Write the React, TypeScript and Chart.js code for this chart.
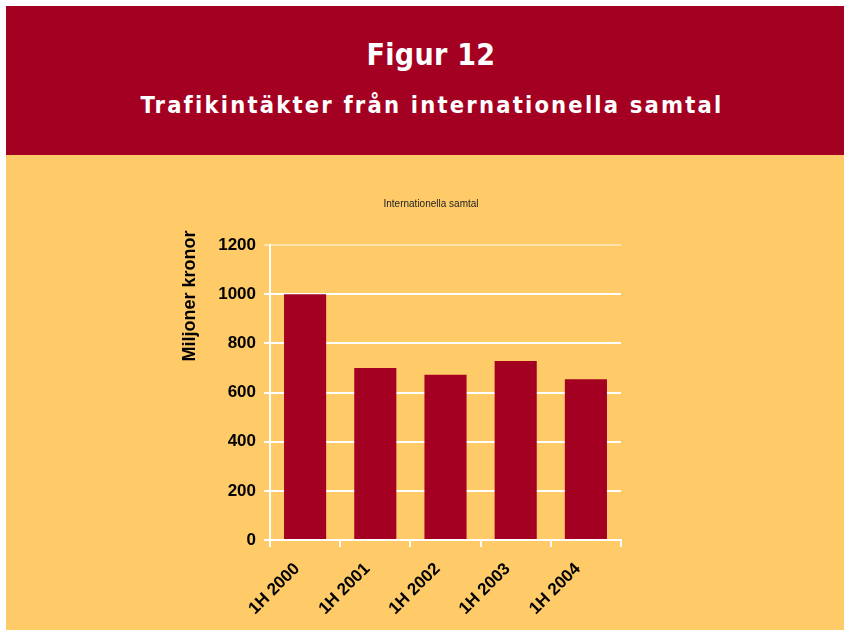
import React, { useEffect, useRef } from "react";
import { Chart, registerables } from "chart.js";

Chart.register(...registerables);

const categories = ["1H 2000", "1H 2001", "1H 2002", "1H 2003", "1H 2004"];
const values = [1000, 700, 672, 728, 654];
const yMin = 0;
const yMax = 1200;
const yStep = 200;

const headerTitle = "Figur 12";
const headerSubtitle = "Trafikintäkter från internationella samtal";
const chartTitle = "Internationella samtal";
const yAxisTitle = "Miljoner kronor";

const RED = "rgb(164,0,34)";
const YELLOW = "rgb(255,203,104)";

const textPlugin = {
  id: "fixedTexts",
  afterDraw(chart: any) {
    const ctx = chart.ctx;
    ctx.save();
    ctx.fillStyle = "#222";
    ctx.font = "10px 'Liberation Sans', Arial, sans-serif";
    ctx.textAlign = "center";
    ctx.textBaseline = "middle";
    ctx.fillText(chartTitle, 425, 49);
    ctx.translate(184, 141);
    ctx.rotate(-Math.PI / 2);
    ctx.fillStyle = "#000";
    ctx.font = "bold 18px 'Liberation Sans', Arial, sans-serif";
    ctx.fillText(yAxisTitle, 0, 0);
    ctx.restore();
  },
};

export default function App() {
  const canvasRef = useRef<HTMLCanvasElement | null>(null);

  useEffect(() => {
    const canvas = canvasRef.current;
    if (!canvas) return;
    const tickFont = { family: "'Liberation Sans', Arial, sans-serif", weight: "bold" as const, size: 17 };
    const chart = new Chart(canvas, {
      type: "bar",
      data: {
        labels: categories,
        datasets: [
          {
            data: values,
            backgroundColor: RED,
            borderWidth: 0,
            barPercentage: 0.6,
            categoryPercentage: 1,
          },
        ],
      },
      options: {
        responsive: false,
        animation: false,
        layout: { padding: { left: 170, right: 223, top: 90, bottom: 10 } },
        plugins: {
          legend: { display: false },
          title: { display: false },
          tooltip: { enabled: false },
        },
        scales: {
          x: {
            grid: {
              offset: true,
              drawOnChartArea: false,
              drawTicks: true,
              color: "#fff",
              lineWidth: 2,
              tickLength: 7,
            },
            border: { color: "#fff", width: 2 },
            ticks: {
              color: "#000",
              font: tickFont,
              minRotation: 45,
              maxRotation: 45,
              padding: 12,
              labelOffset: -8,
            },
            afterFit: (s: any) => {
              s.height = 80;
            },
          },
          y: {
            min: yMin,
            max: yMax,
            ticks: {
              stepSize: yStep,
              color: "#000",
              font: tickFont,
              padding: 8,
              callback: (v: any) => String(v),
            },
            grid: {
              color: (c: any) => (c.tick && c.tick.value === yMax ? "rgba(255,255,255,0.45)" : "#fff"),
              lineWidth: 2,
              tickLength: 6,
            },
            border: { color: "#fff", width: 2 },
            afterFit: (s: any) => {
              s.width = 94;
            },
          },
        },
      },
      plugins: [textPlugin],
    });
    return () => chart.destroy();
  }, []);

  return (
    <div
      style={{
        position: "absolute",
        left: 6,
        top: 6,
        width: 838,
        height: 624,
        background: YELLOW,
        overflow: "hidden",
      }}
    >
      <div
        style={{
          position: "absolute",
          left: 0,
          top: 0,
          width: 838,
          height: 149,
          background: RED,
          color: "#fff",
          fontFamily: "'DejaVu Sans Condensed', 'DejaVu Sans', sans-serif",
          fontWeight: "bold",
          textAlign: "center",
        }}
      >
        <div
          style={{
            position: "absolute",
            left: 0,
            width: 838,
            top: 30.6,
            fontSize: 30,
            lineHeight: "36px",
            letterSpacing: 0.3,
            paddingLeft: 12,
            boxSizing: "border-box",
            whiteSpace: "nowrap",
          }}
        >
          {headerTitle}
        </div>
        <div
          style={{
            position: "absolute",
            left: 0,
            width: 838,
            top: 85.2,
            fontSize: 23.5,
            lineHeight: "28px",
            letterSpacing: 2.2,
            paddingLeft: 14,
            boxSizing: "border-box",
            whiteSpace: "nowrap",
          }}
        >
          {headerSubtitle}
        </div>
      </div>
      <canvas
        ref={canvasRef}
        width={838}
        height={475}
        style={{ position: "absolute", left: 0, top: 149, width: 838, height: 475, display: "block" }}
      />
    </div>
  );
}
